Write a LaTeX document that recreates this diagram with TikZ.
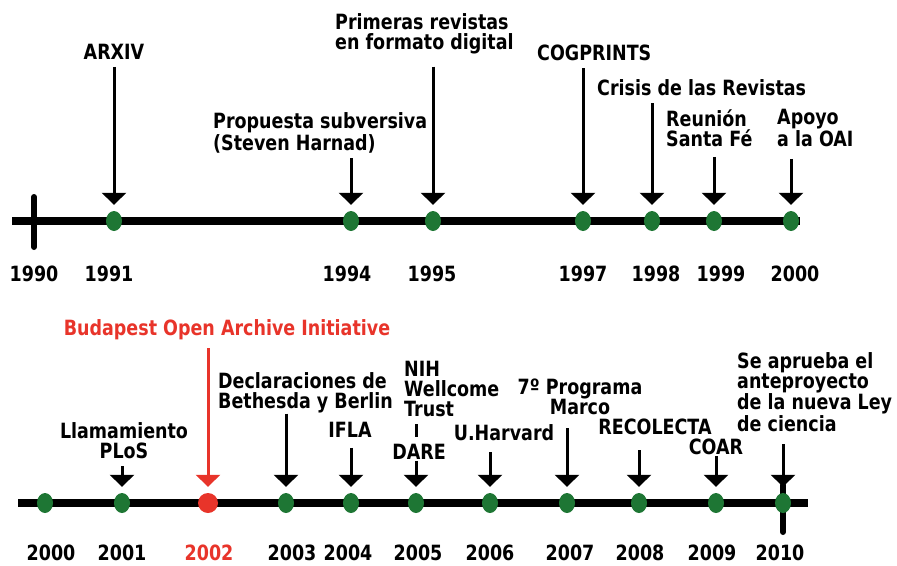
\documentclass[tikz,border=0pt]{standalone}
\usepackage{fontspec}
\setmainfont{DejaVu Sans}
\usetikzlibrary{arrows.meta,shapes.geometric}
\definecolor{dotgreen}{RGB}{30,118,52}
\definecolor{boared}{RGB}{232,52,42}
\newcommand{\tlfont}{\fontsize{17.5}{16.7}\selectfont\bfseries}

\begin{document}
\begin{tikzpicture}[x=1pt, y=-1pt,
    dot/.style={ellipse, fill=dotgreen, minimum width=16pt, minimum height=20pt, inner sep=0pt},
    txt/.style={font=\tlfont, yscale=1.2, inner sep=0pt, align=left},
    year/.style={font=\tlfont, yscale=1.2, inner sep=0pt},
    arr/.style={line width=3pt, -{Triangle[width=24pt,length=12pt]}, shorten >=6pt, shorten <=7pt},
    axis/.style={line width=8pt},
    tick/.style={line width=6pt, line cap=round}]
    \useasboundingbox (0,0) rectangle (897,565);

    % the two time lines
    \draw[axis] (12,221) -- (800,221);
    \draw[tick] (34,197) -- (34,247);
    \draw[axis] (18,503) -- (808,503);
    \draw[tick] (783,485) -- (783,532);

    % dots
    \foreach \yr/\x in {1991/114,1994/351,1995/433,1997/583,1998/652,1999/714,2000/791}
        \node[dot] (t\yr) at (\x,221) {};
    \foreach \yr/\x in {2000/45,2001/122,2003/286,2004/351,2005/416,2006/490,2007/567,2008/639,2009/716,2010/783}
        \node[dot] (b\yr) at (\x,503) {};
    \node[dot, fill=boared, minimum width=20pt] (b2002) at (208,503) {};

    % years
    \foreach \yr/\x in {1990/34,1991/109,1994/347,1995/432,1997/583,1998/656,1999/721,2000/795}
        \node[year] (ty\yr) at (\x,274) {\yr};
    \foreach \yr/\x in {2000/51,2001/122,2003/292,2004/348,2005/418,2006/490,2007/570,2008/640,2009/712,2010/780}
        \node[year] (by\yr) at (\x,553) {\yr};
    \node[year, text=boared] (by2002) at (209,553) {2002};

    % events 1990-2000
    \node[txt] (arxiv) at (114,52) {ARXIV};
    \node[txt, anchor=west] (propuesta) at (213,133) {Propuesta subversiva\\(Steven Harnad)};
    \node[txt, anchor=west] (primeras) at (335,34) {Primeras revistas\\en formato digital};
    \node[txt, anchor=west] (cogprints) at (537,53) {COGPRINTS};
    \node[txt, anchor=west] (crisis) at (597,88) {Crisis de las Revistas};
    \node[txt, anchor=west] (reunion) at (666,128) {Reunión\\Santa Fé};
    \node[txt, anchor=west] (apoyo) at (777,128) {Apoyo\\a la OAI};

    % events 2000-2010
    \node[txt, text=boared] (budapest) at (227,330) {Budapest Open Archive Initiative};
    \node[txt, align=center] (llamamiento) at (124,441) {Llamamiento\\PLoS};
    \node[txt, anchor=west] (declaraciones) at (218,393) {Declaraciones de\\Bethesda y Berlin};
    \node[txt] (ifla) at (350,430) {IFLA};
    \node[txt, anchor=west] (nih) at (404,389) {NIH\\Wellcome\\Trust};
    \node[txt] (dare) at (419,452) {DARE};
    \node[txt] (harvard) at (504,433) {U.Harvard};
    \node[txt, align=center] (programa) at (580,397) {7º Programa\\Marco};
    \node[txt] (recolecta) at (655,427) {RECOLECTA};
    \node[txt] (coar) at (716,447) {COAR};
    \node[txt, anchor=west] (ley) at (737,392) {Se aprueba el\\anteproyecto\\de la nueva Ley\\de ciencia};

    % Draw the arrows
    \path[arr]
  (arxiv.south -| t1991) edge (t1991)
  (propuesta.south -| t1994) edge[shorten <=5pt] (t1994)
  (primeras.south -| t1995) edge[shorten <=12pt] (t1995)
  (cogprints.south -| t1997) edge (t1997)
  (crisis.south -| t1998) edge (t1998)
  (reunion.south -| t1999) edge[shorten <=10pt] (t1999)
  (apoyo.south -| t2000) edge[shorten <=12pt] (t2000)
  (llamamiento.south -| b2001) edge (b2001)
  (declaraciones.south -| b2003) edge[shorten <=0pt] (b2003)
  (ifla.south -| b2004) edge[shorten <=10pt] (b2004)
  (dare.south -| b2005) edge[shorten <=1pt] (b2005)
  (harvard.south -| b2006) edge[shorten <=11pt] (b2006)
  (programa.south -| b2007) edge[shorten <=13pt] (b2007)
  (recolecta.south -| b2008) edge[shorten <=15pt] (b2008)
  (coar.south -| b2009) edge[shorten <=1pt] (b2009)
  (ley.south -| b2010) edge[shorten <=12pt] (b2010);
    \path[arr, color=boared] (budapest.south -| b2002) edge[shorten <=8pt] (b2002);
    \draw[line width=3pt, shorten <=7pt, shorten >=7pt] (nih.south -| b2005) -- (dare.north -| b2005);
\end{tikzpicture}
\end{document}
